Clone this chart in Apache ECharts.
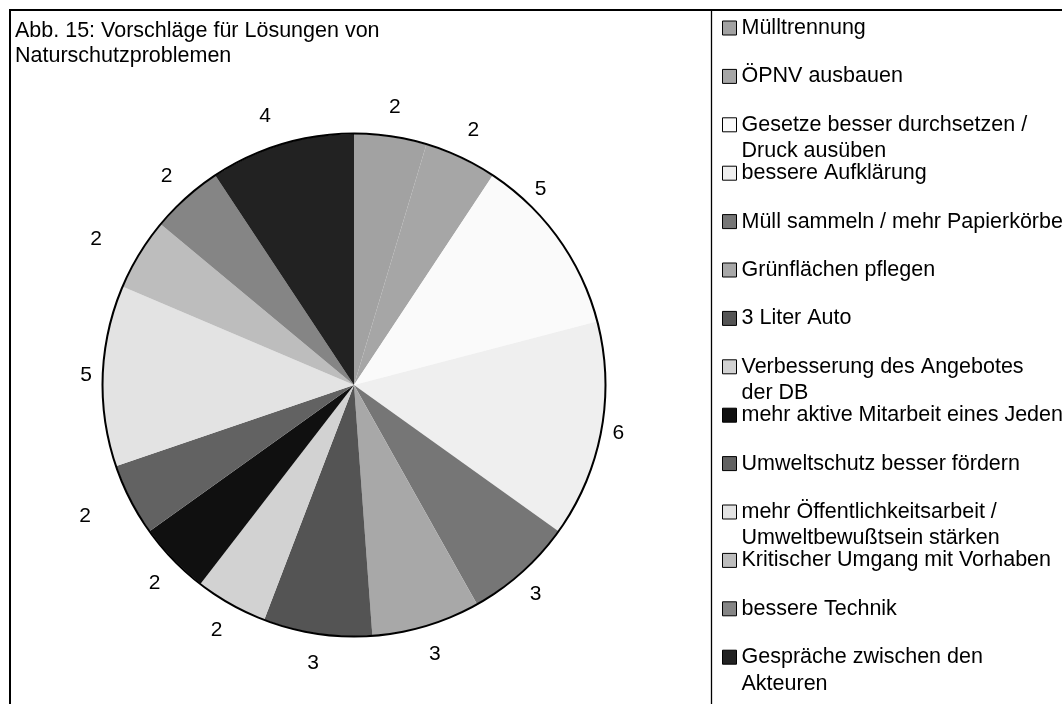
<!DOCTYPE html>
<html>
<head>
<meta charset="utf-8">
<title>Abb. 15</title>
<script src="https://cdn.jsdelivr.net/npm/echarts@6/dist/echarts.min.js"></script>
<style>
  html, body { margin: 0; padding: 0; background: #fff; }
  #chart { width: 1062px; height: 704px; }
</style>
</head>
<body>
<div id="chart"></div>
<script>
const categories = [
  'Mülltrennung',
  'ÖPNV ausbauen',
  'Gesetze besser durchsetzen /\nDruck ausüben',
  'bessere Aufklärung',
  'Müll sammeln / mehr Papierkörbe',
  'Grünflächen pflegen',
  '3 Liter Auto',
  'Verbesserung des Angebotes\nder DB',
  'mehr aktive Mitarbeit eines Jeden',
  'Umweltschutz besser fördern',
  'mehr Öffentlichkeitsarbeit /\nUmweltbewußtsein stärken',
  'Kritischer Umgang mit Vorhaben',
  'bessere Technik',
  'Gespräche zwischen den\nAkteuren',
]
const values = [2, 2, 5, 6, 3, 3, 3, 2, 2, 2, 5, 2, 2, 4]

const palette = [
  '#a2a2a2', '#a6a6a6', '#fafafa', '#efefef', '#767676', '#a8a8a8', '#545454',
  '#d2d2d2', '#101010', '#626262', '#e3e3e3', '#bdbdbd', '#858585', '#222222',
]

// small shifts of single value labels, as placed in the original
const labelNudge = [
  [0, 0], [0, 0], [-42, -32], [-12, -3], [-6, 0], [0, 0], [0, 0],
  [0, 0], [3, 3], [-19, 3], [13, 0], [-18, 1], [0, 0], [-8, 0],
]

const FONT = '"Liberation Sans", Arial, sans-serif'
const FONT_SIZE = 21.5
const center = [354, 385]
const pieRadius = 251

const chart = echarts.init(document.getElementById('chart'))

const sliceData = categories.map((name, i) => ({
  name,
  value: values[i],
  itemStyle: { color: palette[i] },
}))

// wrapped names: keep the first line level with the icon
const legendFormatter = (name) => {
  if (!name.includes('\n')) return name
  const [first, second] = name.split('\n')
  return `{a|${first}}\n{b|${second}}`
}

const legends = categories.map((name, i) => ({
  data: [name],
  orient: 'vertical',
  left: 722,
  top: 17 + i * 48.4,
  padding: 0,
  icon: 'rect',
  itemWidth: 14,
  itemHeight: 14,
  itemStyle: { borderColor: '#000', borderWidth: 1 },
  formatter: legendFormatter,
  textStyle: {
    fontFamily: FONT,
    fontSize: FONT_SIZE,
    color: '#000',
    rich: {
      a: { fontFamily: FONT, fontSize: FONT_SIZE, color: '#000', lineHeight: 25 },
      b: { fontFamily: FONT, fontSize: FONT_SIZE, color: '#000', lineHeight: 0, verticalAlign: 'top', padding: [3, 0, 0, 0] },
    },
  },
}))

chart.setOption({
  animation: false,
  textStyle: { fontFamily: FONT },
  title: {
    text: 'Abb. 15: Vorschläge für Lösungen von\nNaturschutzproblemen',
    left: 10,
    top: 13.5,
    textStyle: { fontFamily: FONT, fontSize: FONT_SIZE, fontWeight: 'normal', lineHeight: 25, color: '#000' },
  },
  legend: legends,
  graphic: [
    {
      type: 'rect',
      silent: true,
      shape: { x: 10, y: 10, width: 1100, height: 800 },
      style: { fill: 'none', stroke: '#000', lineWidth: 2 },
    },
    {
      type: 'rect',
      silent: true,
      shape: { x: 711.5, y: 10, width: 400, height: 800 },
      style: { fill: 'none', stroke: '#000', lineWidth: 1.3 },
    },
  ],
  series: [
    {
      type: 'pie',
      center,
      radius: [0, pieRadius],
      startAngle: 90,
      clockwise: true,
      data: sliceData,
      label: { show: false },
      labelLine: { show: false },
      emphasis: { scale: false },
    },
    {
      // value labels sit on an invisible ring around the pie
      type: 'pie',
      center,
      radius: [pieRadius, 305],
      startAngle: 90,
      clockwise: true,
      silent: true,
      data: sliceData.map((d) => ({ name: d.name, value: d.value })),
      itemStyle: { color: 'transparent' },
      label: {
        show: true,
        position: 'inside',
        formatter: '{c}',
        fontFamily: FONT,
        fontSize: 21,
        color: '#000',
      },
      labelLine: { show: false },
      labelLayout: (params) => {
        const [dx, dy] = labelNudge[params.dataIndex]
        return { dx, dy }
      },
      emphasis: { disabled: true },
    },
    {
      type: 'pie',
      center,
      radius: [pieRadius - 0.5, pieRadius + 1.5],
      silent: true,
      data: [{ name: 'Summe', value: values.reduce((a, b) => a + b, 0) }],
      itemStyle: { color: '#000' },
      label: { show: false },
      labelLine: { show: false },
      emphasis: { disabled: true },
    },
  ],
})
</script>
</body>
</html>
